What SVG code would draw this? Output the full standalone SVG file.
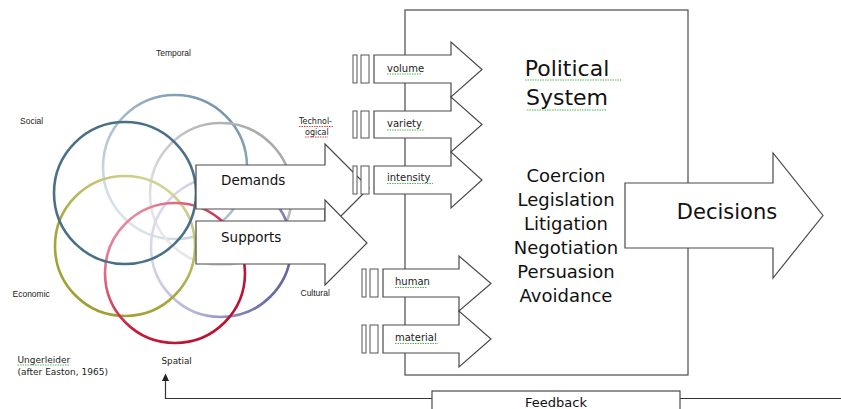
<svg xmlns="http://www.w3.org/2000/svg" width="841" height="409" viewBox="0 0 841 409">
<style>
.shape{fill:#fff;stroke:#4a4a4a;stroke-width:1.2}
.bar{fill:#fff;stroke:#555;stroke-width:1}
.ring{fill:none;stroke-width:2.6}
.big{font-family:"DejaVu Sans",sans-serif;fill:#111}
.lbl{font-family:"Liberation Sans",Arial,sans-serif;font-size:8.5px;fill:#222}
.sm{font-family:"DejaVu Sans",sans-serif;font-size:10px;fill:#222}
.sq{stroke:#4cbb4c;stroke-width:1;stroke-dasharray:1.5 1;fill:none}
.sqr{stroke:#e04040;stroke-width:1;stroke-dasharray:1.5 1;fill:none}
.line{fill:none;stroke:#333;stroke-width:1.2}
</style>
<defs>
<linearGradient id="gTemp" x1="0.8" y1="0" x2="0.1" y2="0.9"><stop offset="0" stop-color="#6f93aa"/><stop offset="1" stop-color="#dfe7ec"/></linearGradient>
<linearGradient id="gGray" x1="0.9" y1="0.1" x2="0.1" y2="0.9"><stop offset="0" stop-color="#a6a6a6"/><stop offset="1" stop-color="#ececec"/></linearGradient>
<linearGradient id="gOlive" x1="0.8" y1="0" x2="0.2" y2="1"><stop offset="0" stop-color="#d6d79e"/><stop offset="0.6" stop-color="#a8a83c"/><stop offset="1" stop-color="#9d9d30"/></linearGradient>
<linearGradient id="gRed" x1="0" y1="0" x2="1" y2="1"><stop offset="0" stop-color="#eeb0c0"/><stop offset="0.55" stop-color="#c81a3a"/><stop offset="1" stop-color="#b80c28"/></linearGradient>
<linearGradient id="gPurp" x1="0" y1="0.3" x2="1" y2="0.7"><stop offset="0" stop-color="#dcdcee"/><stop offset="0.5" stop-color="#b4b4d6"/><stop offset="1" stop-color="#5e5ea2"/></linearGradient>
</defs>

<g id="environment">
<circle class="ring" cx="175" cy="167" r="72" stroke="url(#gTemp)"/>
<circle class="ring" cx="221" cy="194" r="71" stroke="url(#gGray)"/>
<circle class="ring" cx="221" cy="247" r="70" stroke="url(#gPurp)"/>
<circle class="ring" cx="125" cy="246" r="70" stroke="url(#gOlive)"/>
<circle class="ring" cx="175" cy="273" r="70" stroke="url(#gRed)"/>
<circle class="ring" cx="125" cy="193" r="71" stroke="#4a7088"/>
<text class="lbl" x="156" y="56">Temporal</text>
<text class="lbl" x="20" y="124">Social</text>
<text class="lbl" x="12.5" y="296.5">Economic</text>
<text class="lbl" x="300.5" y="296">Cultural</text>
<text class="sm" x="161.5" y="364" style="font-size:8.8px">Spatial</text>
<text class="sm" x="299" y="124" style="font-size:8px">Technol-</text>
<text class="sm" x="305" y="134.5" style="font-size:8px">ogical</text>
<line class="sqr" x1="299" y1="126.5" x2="333" y2="126.5"/>
<line class="sqr" x1="305" y1="137" x2="328" y2="137"/>
</g>

<g id="system">
<rect class="shape" x="405" y="10" width="283" height="365"/>
<text class="big" x="567" y="76" text-anchor="middle" font-size="22">Political</text>
<text class="big" x="567" y="105" text-anchor="middle" font-size="22">System</text>
<line class="sq" x1="525" y1="80" x2="622" y2="80"/>
<line class="sq" x1="527" y1="110" x2="607" y2="110"/>
<g class="big" font-size="18" text-anchor="middle">
<text x="566" y="182">Coercion</text>
<text x="566" y="206">Legislation</text>
<text x="566" y="230">Litigation</text>
<text x="566" y="254">Negotiation</text>
<text x="566" y="278">Persuasion</text>
<text x="566" y="302">Avoidance</text>
</g>
</g>

<g id="demands">
<polygon class="shape" points="196,165 325,165 325,144 369,188 325,232 325,209 196,209"/>
<text class="big" x="221" y="185" font-size="13.5">Demands</text>
</g>
<g id="supports">
<polygon class="shape" points="196,221 325,221 325,200 367,243 325,285 325,264 196,264"/>
<text class="big" x="221" y="242" font-size="13.5">Supports</text>
</g>

<g id="volume">
<rect class="bar" x="353" y="55" width="4" height="28"/>
<rect class="bar" x="361" y="55" width="8" height="28"/>
<polygon class="shape" points="374,55 451,55 451,42 482,69.5 451,97 451,83 374,83"/>
<text class="sm" x="387" y="71.5">volume</text>
<line class="sq" x1="387" y1="74" x2="421" y2="74"/>
</g>
<g id="variety">
<rect class="bar" x="353" y="111" width="4" height="27"/>
<rect class="bar" x="361" y="111" width="8" height="27"/>
<polygon class="shape" points="374,111 451,111 451,97 482,124.5 451,152 451,138 374,138"/>
<text class="sm" x="387" y="127">variety</text>
<line class="sq" x1="387" y1="130" x2="424" y2="130"/>
</g>
<g id="intensity">
<rect class="bar" x="353" y="166" width="4" height="28"/>
<rect class="bar" x="361" y="166" width="8" height="28"/>
<polygon class="shape" points="374,166 451,166 451,152 482,180 451,208 451,194 374,194"/>
<text class="sm" x="387" y="181">intensity</text>
<line class="sq" x1="387" y1="183.5" x2="433" y2="183.5"/>
</g>
<g id="human">
<rect class="bar" x="362" y="269" width="4" height="28"/>
<rect class="bar" x="370" y="269" width="8" height="28"/>
<polygon class="shape" points="383,269 459,269 459,256 491,283.5 459,311 459,297 383,297"/>
<text class="sm" x="395" y="285">human</text>
<line class="sq" x1="395" y1="287.5" x2="427" y2="287.5"/>
</g>
<g id="material">
<rect class="bar" x="362" y="325" width="4" height="28"/>
<rect class="bar" x="370" y="325" width="8" height="28"/>
<polygon class="shape" points="383,325 459,325 459,311 491,339 459,367 459,353 383,353"/>
<text class="sm" x="395" y="341">material</text>
<line class="sq" x1="395" y1="343.5" x2="438" y2="343.5"/>
</g>

<g id="decisions">
<polygon class="shape" points="625,183 773,183 773,153 823,215.5 773,278 773,248 625,248"/>
<text class="big" x="727" y="219" text-anchor="middle" font-size="21">Decisions</text>
</g>

<g id="connectors">
<path class="line" d="M841,398.5 H680 M432,398.5 H165.5 V380"/>
<polygon points="162,381 165.5,373.5 169,381" fill="#222"/>
</g>

<g id="feedback">
<rect class="shape" x="432" y="391" width="248" height="30"/>
<text class="big" x="556" y="406.5" text-anchor="middle" font-size="13">Feedback</text>
</g>

<g id="credit">
<text class="sm" x="17.5" y="362.5" style="font-size:9px">Ungerleider</text>
<text class="sm" x="17.5" y="375" style="font-size:9px">(after Easton, 1965)</text>
<line class="sq" x1="17.5" y1="365" x2="70" y2="365"/>
</g>
</svg>
